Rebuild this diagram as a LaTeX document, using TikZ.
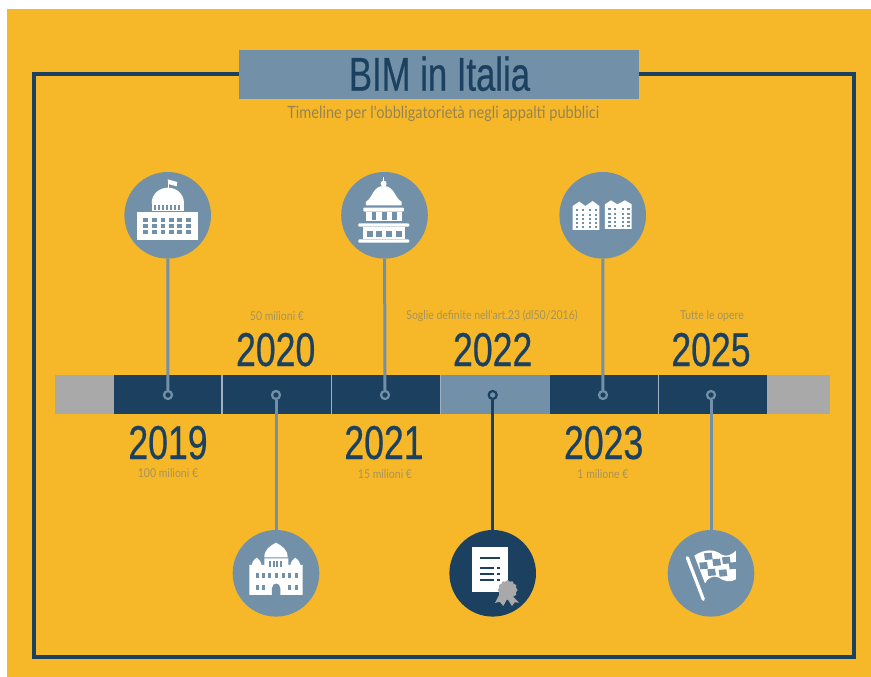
\documentclass[tikz,border=0pt]{standalone}
\usepackage{fontspec}
\setmainfont{Lato}
\newfontfamily\yearfont[FakeStretch=0.75,FakeBold=0.5]{Liberation Sans}
\newfontfamily\titlefont[FakeStretch=0.73,FakeBold=0.5]{Liberation Sans}
\newfontfamily\lightfont[FakeStretch=0.86]{Lato}
\definecolor{bgy}{HTML}{F6B828}
\definecolor{navy}{HTML}{1C4160}
\definecolor{steel}{HTML}{7290A8}
\definecolor{barg}{HTML}{A9A9A9}
\definecolor{sepc}{HTML}{9FB0BE}
\definecolor{subt}{HTML}{A6935A}
\tikzset{
  x=1pt,y=-1pt,
  seg/.style={inner sep=0pt,minimum height=39pt,anchor=west},
  iconc/.style={circle,fill=steel,minimum size=86.6pt,inner sep=0pt},
  dot/.style={circle,draw=steel,fill=navy,line width=2.2pt,minimum size=8pt,inner sep=0pt},
  link/.style={draw=steel,line width=3pt},
  yeartxt/.style={font=\yearfont\fontsize{47.5}{48}\selectfont,text=navy,anchor=base,inner sep=0pt},
  smalltxt/.style={font=\lightfont\fontsize{12.2}{13}\selectfont,text=subt,anchor=base,inner sep=0pt},
  za/.style={shift={(100,160)},x=0.3333pt,y=-0.3333pt},
  zb/.style={shift={(540,160)},x=0.3333pt,y=-0.3333pt},
  zc/.style={shift={(220,520)},x=0.3333pt,y=-0.3333pt},
  zd/.style={shift={(650,520)},x=0.3333pt,y=-0.3333pt},
}
\begin{document}
\begin{tikzpicture}
\useasboundingbox (0,0) rectangle (871,677);
\fill[white] (0,0) rectangle (871,677);
\fill[bgy] (7,9) rectangle (871,677);
\draw[navy,line width=4pt] (34,73.7) rectangle (854,657);
\node[fill=steel,minimum width=400.5pt,minimum height=49pt,inner sep=0pt] (titlebox) at (439.2,74.5) {};
\node[font=\titlefont\fontsize{47.5}{48}\selectfont,text=navy,anchor=base,inner sep=0pt] (title) at (439.5,90.7) {BIM in Italia};
\node[font=\lightfont\fontsize{16.9}{18}\selectfont,text=subt!90!black,anchor=base,inner sep=0pt] (subtitle) at (443.3,118) {Timeline per l'obbligatorietà negli appalti pubblici};
% bar
\fill[sepc] (113,375.3) rectangle (767,414.3);
\node[seg,fill=barg,minimum width=58.5pt] (g1) at (55,394.8) {};
\node[seg,fill=navy,minimum width=107.7pt] (s1) at (113.5,394.8) {};
\node[seg,fill=navy,minimum width=107.7pt] (s2) at (222.7,394.8) {};
\node[seg,fill=navy,minimum width=108.2pt] (s3) at (331.5,394.8) {};
\node[seg,fill=steel,minimum width=108.8pt] (s4) at (440.5,394.8) {};
\node[seg,fill=navy,minimum width=107.7pt] (s5) at (550,394.8) {};
\node[seg,fill=navy,minimum width=107.7pt] (s6) at (659,394.8) {};
\node[seg,fill=barg,minimum width=63.3pt] (g2) at (766.7,394.8) {};
% circles and dots
\node[iconc] (c1) at (167.7,215.3) {};
\node[iconc] (c2) at (384.5,215.3) {};
\node[iconc] (c3) at (602.7,215.3) {};
\node[iconc] (c4) at (276,573.3) {};
\node[iconc,fill=navy] (c5) at (492.7,573.3) {};
\node[iconc] (c6) at (711,573.3) {};
\node[dot] (d1) at (168,395) {};
\node[dot] (d2) at (276,395) {};
\node[dot] (d3) at (385,395) {};
\node[dot,draw=navy,fill=steel] (d5) at (492.7,395) {};
\node[dot] (d4) at (603,395) {};
\node[dot] (d6) at (711,395) {};
\draw[link] (c1) -- (d1);
\draw[link] (c4) -- (d2);
\draw[link] (c2) -- (d3);
\draw[link,draw=navy] (c5) -- (d5);
\draw[link] (c3) -- (d4);
\draw[link] (c6) -- (d6);
% years
\node[yeartxt] (y19) at (168,459) {2019};
\node[yeartxt] (y20) at (275.7,366) {2020};
\node[yeartxt] (y21) at (384,459) {2021};
\node[yeartxt] (y22) at (492.7,366) {2022};
\node[yeartxt] (y23) at (603.7,459) {2023};
\node[yeartxt] (y25) at (711,366) {2025};
\node[smalltxt] (t19) at (168,477) {100 milioni €};
\node[smalltxt] (t20) at (277,320) {50 milioni €};
\node[smalltxt] (t21) at (385,478) {15 milioni €};
\node[smalltxt] (t22) at (492,319) {Soglie definite nell'art.23 (dl50/2016)};
\node[smalltxt] (t23) at (603,478) {1 milione €};
\node[smalltxt] (t25) at (712,319) {Tutte le opere};
% icon 1
\begin{scope}[za]
\fill[white] (112,155) rectangle (294,240);
\fill[white] (155,130) rectangle (252,152);
\fill[white] (155,130) .. controls (155,100) and (180,83) .. (204,83) .. controls (228,83) and (252,100) .. (252,130) -- cycle;
\foreach \x in {163,175,187,199,211,223,235} \fill[steel] (\x,134) rectangle +(5,17);
\foreach \x in {130,156,182,207,232,258} \foreach \y in {175,193,211} \fill[steel] (\x,\y) rectangle +(14,10);
\fill[white] (204,62) rectangle (207,83);
\fill[white] (203,58) -- (232,66) -- (230,79) -- (205,72) -- cycle;
\end{scope}
% icon 2
\begin{scope}[za]
\fill[white] (849,52) rectangle (853,65);
\fill[white] (851,71) circle (9);
\fill[white] (798,136) -- (798,125) .. controls (818,115) and (818,78) .. (851,78) .. controls (884,78) and (884,115) .. (905,125) -- (905,136) -- cycle;
\fill[white,rounded corners=1pt] (790,143) rectangle (912,155);
\fill[white] (798,155) rectangle (905,183);
\foreach \x in {815,846,877} \fill[steel] (\x,157) rectangle +(14,24);
\fill[white,rounded corners=1pt] (775,190) rectangle (928,200);
\fill[white] (788,200) rectangle (914,238);
\foreach \x in {800,829,859,888} \fill[steel] (\x,212) rectangle +(18,18);
\fill[white,rounded corners=1pt] (775,238) rectangle (928,248);
\end{scope}
% icon 3
\begin{scope}[zb]
\fill[white] (98,210) -- (98,138) -- (118,125) -- (136,138) -- (158,123) -- (178,138) -- (178,210) -- cycle;
\fill[white] (195,207) -- (195,133) -- (213,121) -- (232,133) -- (255,121) -- (275,133) -- (275,207) -- cycle;
\foreach \x in {108,125,147,164} \foreach \y in {148,161,174,187,199} \fill[steel] (\x,\y) rectangle +(7,6);
\foreach \x in {205,222,245,262} \foreach \y in {145,158,171,184,195} \fill[steel] (\x,\y) rectangle +(7,6);
\end{scope}
% icon 4
\begin{scope}[zc]
\fill[white] (88,225) -- (88,135) -- (133,135) -- (133,115) -- (205,115) -- (205,135) -- (248,135) -- (248,225) -- cycle;
\fill[white] (133,112) .. controls (133,88) and (150,78) .. (168,68) .. controls (186,78) and (203,88) .. (203,112) -- cycle;
\fill[white] (95,136) .. controls (97,122) and (105,118) .. (110,113) .. controls (115,118) and (123,122) .. (125,136) -- cycle;
\fill[white] (211,136) .. controls (213,122) and (221,118) .. (226,113) .. controls (231,118) and (239,122) .. (241,136) -- cycle;
\foreach \x in {147,158,169,180} \fill[steel] (\x,124) rectangle +(6,16);
\foreach \x in {107,126,145,165,185,205,224} \fill[steel] (\x,160) rectangle +(9,15);
\foreach \x in {107,126,205,224} \fill[steel] (\x,195) rectangle +(9,15);
\fill[steel] (156,226) -- (156,205) .. controls (156,186) and (181,186) .. (181,205) -- (181,226) -- cycle;
\end{scope}
% icon 5
\begin{scope}[zc]
\fill[white] (755,80) rectangle (863,217);
\fill[navy] (780,111) rectangle (840,117);
\foreach \y in {140,158,176} {\fill[navy] (780,\y) rectangle +(42,6); \fill[navy] (831,\y) rectangle +(9,6);}
\fill[barg] (838,224) -- (825,249) -- (839,245) -- (850,258) -- (862,236) -- cycle;
\fill[barg] (875,226) -- (897,248) -- (884,247) -- (876,258) -- (862,236) -- cycle;
\fill[barg] (893,210) \foreach \a in {15,30,...,345} {-- ({863+(mod(\a,30)==0 ? 30:26)*cos(\a)},{210+(mod(\a,30)==0 ? 30:26)*sin(\a)})} -- cycle;
\end{scope}
% icon 6
\begin{scope}[zd]
\draw[white,line width=3.2pt,line cap=round] (112,113) -- (160,238);
\fill[white] (133,107) .. controls (165,85) and (195,88) .. (215,104) .. controls (230,112) and (245,104) .. (258,92) -- (258,178) .. controls (240,188) and (225,185) .. (205,172) .. controls (190,165) and (172,175) .. (165,190) -- cycle;
\foreach \a/\b in {162/100,148/128,187/118,172/148,216/112,206/150,236/128} {
  \fill[steel] (\a,\b) -- ++(23,-2) -- ++(3,20) -- ++(-23,2) -- cycle;
}
\end{scope}
\end{tikzpicture}
\end{document}
